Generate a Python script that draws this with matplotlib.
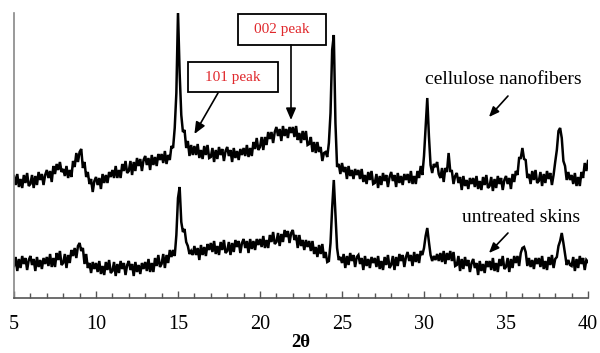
import numpy as np
import matplotlib
matplotlib.use("Agg")
import matplotlib.pyplot as plt
from matplotlib.patches import Rectangle
from matplotlib.ticker import MultipleLocator

# 2-theta grid (degrees), 0.1 step from 5 to 40
two_theta = np.round(np.arange(5.0, 40.05, 0.1), 1)

# Cellulose nanofibers (arbitrary intensity units)
nanofibers = [
    122,113,124,111,119,110,123,115,125,112,   # 5
    114,123,110,122,113,126,118,124,113,123,   # 6
    128,120,127,116,132,124,134,128,136,126,   # 7
    129,122,132,120,128,121,137,131,145,136,   # 8
    146,149,130,136,121,126,114,119,106,117,   # 9
    121,113,120,109,124,115,123,115,126,121,   # 10
    128,120,132,120,128,120,134,127,137,125,   # 11
    127,137,123,136,127,140,132,139,127,138,   # 12
    142,133,140,128,143,133,141,132,144,138,   # 13
    144,135,147,134,143,138,152,150,170,205,   # 14
    286,225,183,166,168,150,157,142,153,143,   # 15
    152,143,154,140,148,139,152,143,153,140,   # 16
    141,150,136,148,139,151,143,149,137,147,   # 17
    151,142,148,136,150,140,147,138,149,143,   # 18
    150,142,153,141,150,142,156,149,160,148,   # 19
    151,161,148,161,153,166,159,166,155,166,   # 20
    171,162,169,157,172,162,169,160,171,165,   # 21
    171,161,172,158,165,155,167,158,167,153,   # 22
    154,161,146,156,145,156,146,151,137,145,   # 23
    146,141,155,185,248,263,175,131,134,124,   # 24
    135,126,131,119,132,122,128,119,129,123,   # 25
    128,119,129,116,123,114,126,118,127,114,   # 26
    115,124,110,122,113,125,117,123,111,121,   # 27
    126,117,123,111,125,115,122,113,124,118,   # 28
    124,115,127,114,122,114,127,120,132,123,   # 29
    142,172,200,162,133,125,134,131,136,124,   # 30
    120,130,116,130,126,145,127,127,114,122,   # 31
    125,115,121,108,122,112,118,109,120,114,   # 32
    120,111,122,109,117,108,121,113,123,110,   # 33
    112,121,107,119,110,122,114,120,108,118,   # 34
    122,114,120,109,124,116,127,123,140,140,   # 35
    150,139,138,120,124,114,127,118,128,115,   # 36
    117,126,112,124,115,127,119,125,113,123,   # 37
    136,148,167,170,160,137,132,118,126,118,   # 38
    123,114,125,112,121,112,126,120,135,127,   # 39
    137,                                       # 40
]

# Untreated skins
untreated = [
    32,41,27,39,30,42,34,40,28,38,   # 5
    42,33,39,27,41,31,38,29,40,34,   # 6
    41,32,44,31,40,31,45,38,47,33,   # 7
    35,44,30,43,35,48,42,50,40,52,   # 8
    55,47,50,34,44,30,35,25,36,29,   # 9
    35,26,37,24,32,23,36,28,38,25,   # 10
    27,36,22,34,25,37,29,35,23,33,   # 11
    37,28,34,22,36,26,33,24,35,29,   # 12
    36,27,39,26,35,26,40,32,43,31,   # 13
    34,44,30,43,35,48,41,48,42,63,   # 14
    100,111,76,66,69,56,52,44,47,43, # 15
    52,43,50,38,53,43,51,42,54,48,   # 16
    55,46,57,44,52,43,56,48,58,45,   # 17
    47,56,43,55,46,58,51,57,45,55,   # 18
    59,50,57,45,59,49,57,48,59,53,   # 19
    59,51,62,50,58,50,63,56,66,54,   # 20
    56,65,52,64,56,68,61,67,55,65,   # 21
    68,58,63,50,63,52,58,48,58,51,   # 22
    57,47,57,44,51,41,53,44,54,40,   # 23
    46,36,37,55,90,118,85,50,38,41,  # 24
    35,44,30,42,33,45,37,43,31,41,   # 25
    43,34,40,28,42,32,39,30,41,35,   # 26
    40,31,42,29,37,28,41,33,43,30,   # 27
    33,42,28,41,32,44,37,43,31,41,   # 28
    46,37,43,32,46,36,44,35,47,43,   # 29
    50,62,70,56,43,37,42,38,44,37,   # 30
    45,36,47,34,45,38,47,37,46,32,   # 31
    33,42,27,39,29,41,32,38,26,35,   # 32
    39,30,35,23,37,27,34,25,37,31,   # 33
    37,28,40,27,35,26,39,32,42,29,   # 34
    31,40,26,39,30,42,35,42,32,45,   # 35
    50,51,46,32,40,31,38,29,40,34,   # 36
    40,31,42,29,37,28,41,33,43,30,   # 37
    39,41,52,57,65,55,44,33,38,33,   # 38
    32,41,27,39,30,42,34,40,28,38,   # 39
    36,                              # 40
]

x_ticks = [5, 10, 15, 20, 25, 30, 35, 40]
x_label = "2θ"
series_labels = ["cellulose nanofibers", "untreated skins"]
peak_labels = ["101 peak", "002 peak"]

serif = ["Liberation Serif", "DejaVu Serif"]
plt.rcParams["font.family"] = serif

fig = plt.figure(figsize=(6.0, 3.53), dpi=100)
ax = fig.add_axes([14/600, 1-298/353, (588-14)/600, (298-13)/353])

ax.plot(two_theta, nanofibers, color="black", lw=1.8, solid_joinstyle="miter")
ax.plot(two_theta, untreated, color="black", lw=1.8, solid_joinstyle="miter")

ax.set_xlim(5, 40)
ax.set_ylim(0, 285)
ax.set_yticks([])
ax.spines["top"].set_visible(False)
ax.spines["right"].set_visible(False)
ax.spines["left"].set_color("#888888")
ax.spines["bottom"].set_color("#555555")
ax.spines["left"].set_linewidth(1.2)
ax.spines["bottom"].set_linewidth(1.2)

ax.set_xticks(x_ticks)
ax.xaxis.set_minor_locator(MultipleLocator(1))
ax.tick_params(axis="x", which="major", direction="in", length=5, width=1,
               color="#555555", labelsize=14.5, pad=12)
ax.tick_params(axis="x", which="minor", direction="in", length=3.3, width=1,
               color="#555555")
ax.set_xlabel(x_label, fontsize=13.5, fontweight="bold", labelpad=0)

red = "#e0282c"
# peak label boxes
ax.add_patch(Rectangle((18.66, 253), 24.02-18.66, 284-253, fill=False,
                       edgecolor="black", lw=1.3, clip_on=False))
ax.text(21.34, 268, peak_labels[1], color=red, fontsize=11, ha="center", va="center")
ax.annotate("", xy=(21.89, 178), xytext=(21.89, 253),
            arrowprops=dict(arrowstyle="-|>,head_length=0.7,head_width=0.3",
                            color="black", lw=1.2, shrinkA=0, shrinkB=0))

ax.add_patch(Rectangle((15.61, 206), 21.10-15.61, 236-206, fill=False,
                       edgecolor="black", lw=1.3))
ax.text(18.35, 221, peak_labels[0], color=red, fontsize=11, ha="center", va="center")
ax.annotate("", xy=(16.0, 164), xytext=(17.44, 205),
            arrowprops=dict(arrowstyle="-|>,head_length=0.7,head_width=0.3",
                            color="black", lw=1.2, shrinkA=0, shrinkB=0))

# series labels
ax.text(34.82, 218, series_labels[0], fontsize=14, ha="center", va="center")
ax.annotate("", xy=(33.96, 181), xytext=(35.12, 202),
            arrowprops=dict(arrowstyle="-|>,head_length=0.6,head_width=0.25",
                            color="black", lw=1.2, shrinkA=0, shrinkB=0))
ax.text(35.91, 80, series_labels[1], fontsize=14, ha="center", va="center")
ax.annotate("", xy=(33.96, 45), xytext=(35.12, 65),
            arrowprops=dict(arrowstyle="-|>,head_length=0.6,head_width=0.25",
                            color="black", lw=1.2, shrinkA=0, shrinkB=0))

fig.savefig("out.png", dpi=100)
